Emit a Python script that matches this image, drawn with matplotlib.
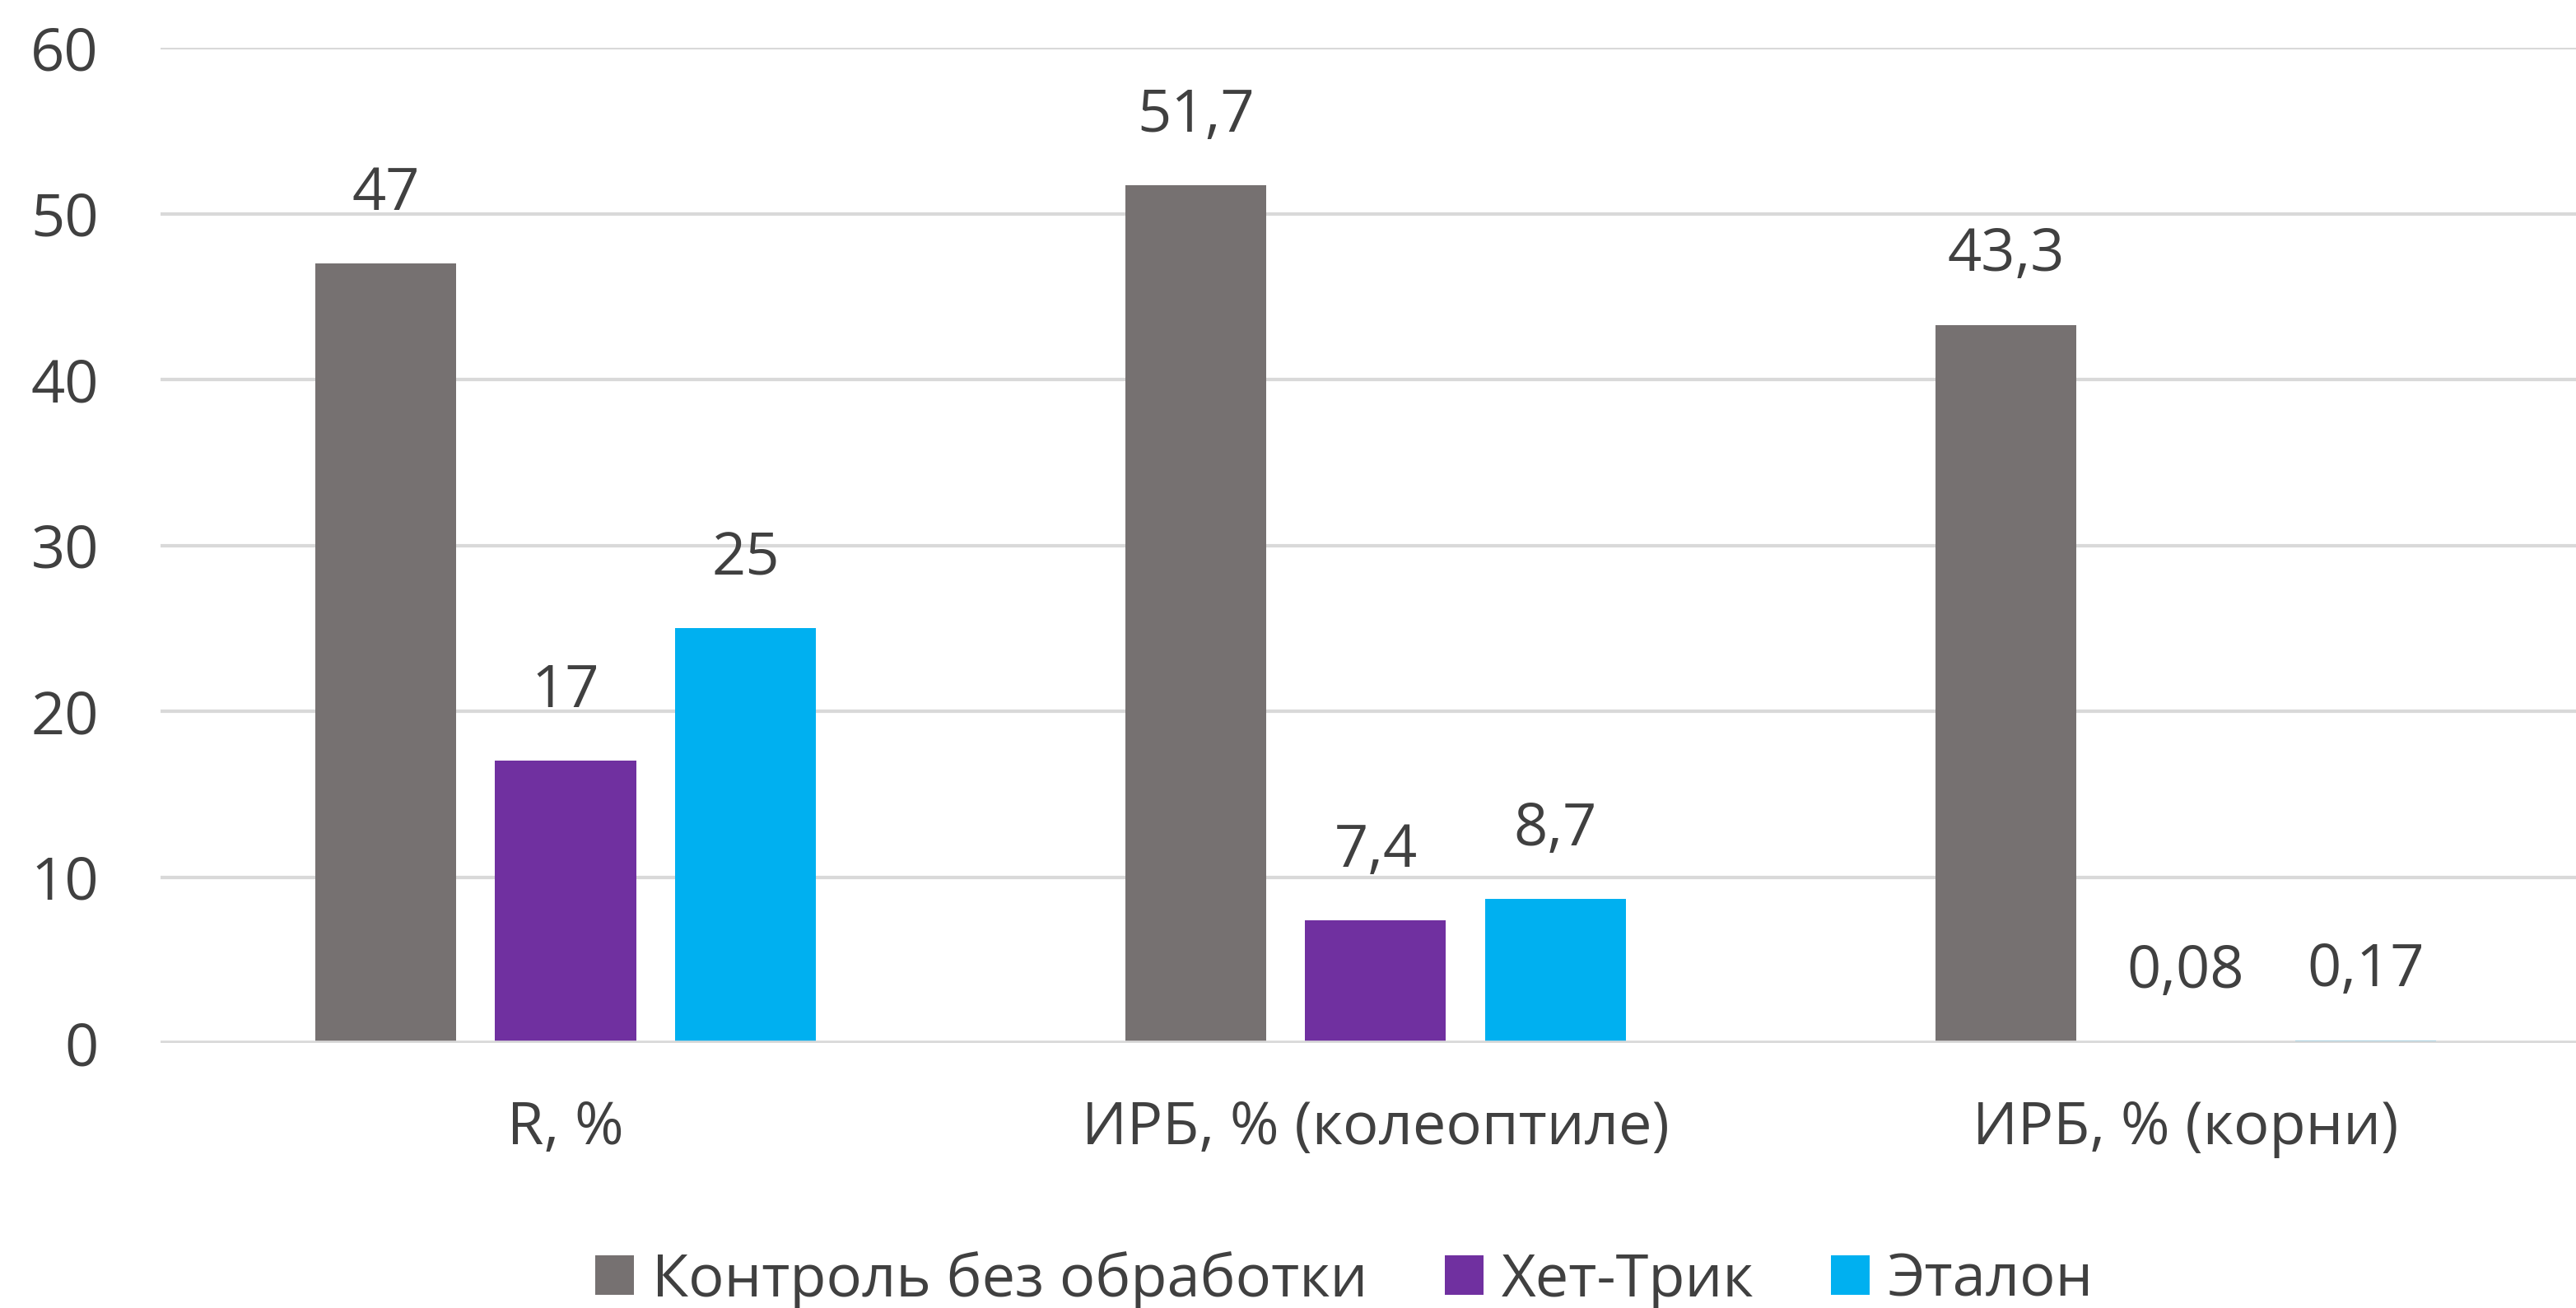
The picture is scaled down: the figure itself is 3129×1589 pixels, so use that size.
import numpy as np
import matplotlib.pyplot as plt

# Данные диаграммы
categories = ["R, %", "ИРБ, % (колеоптиле)", "ИРБ, % (корни)"]
series_names = ["Контроль без обработки", "Хет-Трик", "Эталон"]
control = [47, 51.7, 43.3]
het_trik = [17, 7.4, 0.08]
etalon = [25, 8.7, 0.17]
yticks = [0, 10, 20, 30, 40, 50, 60]

colors = ["#767171", "#7030A0", "#00B0F0"]
text_color = "#404040"
fs = 52

plt.rcParams['font.family'] = ['Open Sans', 'DejaVu Sans']

fig = plt.figure(figsize=(31.29, 15.89), dpi=100)
ax = fig.add_axes([0.0623, 0.2026, 0.9434, 0.7609])

x = np.arange(len(categories))
w = 0.174
offsets = [-0.222, 0.0, 0.222]
series = [control, het_trik, etalon]

bars = []
for vals, off, c, name in zip(series, offsets, colors, series_names):
    b = ax.bar(x + off, vals, width=w, color=c, label=name, zorder=3)
    bars.append(b)
    for xi, v in zip(x + off, vals):
        txt = str(v).replace(".", ",")
        ax.annotate(txt, (xi, v), xytext=(0, 84), textcoords="offset pixels",
                    ha="center", va="center", fontsize=fs, color=text_color)

# нулевая линия поверх крошечных столбиков
ax.axhline(0, color="#D9D9D9", linewidth=4, zorder=4)

ax.set_xlim(-0.5, 2.5)
ax.set_ylim(0, 60)
ax.set_yticks(yticks)
ax.set_xticks(x)
ax.set_xticklabels(categories)
ax.grid(axis="y", color="#D9D9D9", linewidth=3, zorder=0)
ax.set_axisbelow(True)
for s in ax.spines.values():
    s.set_visible(False)
ax.tick_params(axis="both", length=0, labelsize=fs, labelcolor=text_color)
ax.tick_params(axis="x", pad=49)
ax.tick_params(axis="y", pad=54)

leg = fig.legend(handles=bars, labels=series_names, loc="center",
                 bbox_to_anchor=(0.522, 0.021), ncol=3, frameon=False,
                 fontsize=fs, handlelength=0.65, handleheight=0.65,
                 handletextpad=0.3, columnspacing=1.3)
for t in leg.get_texts():
    t.set_color(text_color)

fig.savefig("out.png", dpi=100, facecolor="white")
